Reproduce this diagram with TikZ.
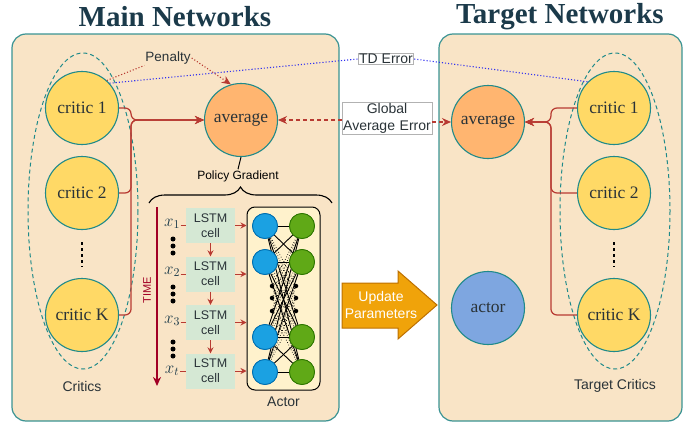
\RequirePackage{fix-cm}
\documentclass[tikz,border=0pt]{standalone}
\usepackage{fontspec}
\setmainfont{Liberation Serif}
\setsansfont{Liberation Sans}
\usetikzlibrary{arrows.meta,decorations.pathreplacing,calc}
\definecolor{panelfill}{HTML}{F9E4C6}
\definecolor{paneledge}{HTML}{3A9393}
\definecolor{circedge}{HTML}{1F8A8A}
\definecolor{criticfill}{HTML}{FFD966}
\definecolor{avgfill}{HTML}{FFB570}
\definecolor{actorfill}{HTML}{7EA6E0}
\definecolor{titlecol}{HTML}{1B3A4A}
\definecolor{txtdark}{HTML}{2A3338}
\definecolor{connred}{HTML}{B83A32}
\definecolor{timered}{HTML}{A20025}
\definecolor{tdblue}{HTML}{3030F0}
\definecolor{lstmfill}{HTML}{D5E8D4}
\definecolor{abfill}{HTML}{FFF2CC}
\definecolor{bluen}{HTML}{1BA1E2}
\definecolor{bluee}{HTML}{006EAF}
\definecolor{greenn}{HTML}{60A917}
\definecolor{greene}{HTML}{2D7600}
\definecolor{updfill}{HTML}{F0A30A}
\definecolor{updedge}{HTML}{BD7000}
\tikzset{
  circ/.style={circle, draw=circedge, line width=1.1pt, minimum size=73pt, inner sep=0pt, text=txtdark, font=\fontsize{17.5}{20}\selectfont},
  critic/.style={circ, fill=criticfill},
  avgc/.style={circ, fill=avgfill},
  actorc/.style={circ, fill=actorfill},
  panel/.style={draw=paneledge, fill=panelfill, line width=1.2pt, rounded corners=14pt},
  ttl/.style={text=titlecol, font=\fontsize{29}{32}\selectfont\bfseries},
  sanslbl/.style={text=txtdark, font=\sffamily\fontsize{14}{17}\selectfont, inner sep=1pt},
  ell/.style={draw=circedge, dashed, dash pattern=on 4pt off 3pt, line width=1pt},
  conn/.style={draw=connred, line width=1.2pt, rounded corners=6pt, -{Stealth[length=9pt,width=8pt]}},
  penline/.style={draw=connred, dotted, line width=1.1pt, -{Stealth[length=9pt,width=8pt]}},
  tdline/.style={draw=tdblue, dotted, line width=1.1pt},
  gaeline/.style={draw=connred, dashed, dash pattern=on 4pt off 3pt, line width=1.2pt, -{Stealth[length=9pt,width=8pt]}},
  labbox/.style={sanslbl, draw=black!30, fill=white, line width=0.8pt, align=center},
  vdots/.style={draw=black, line width=1.3pt, dash pattern=on 3pt off 3pt},
  lstm/.style={fill=lstmfill, minimum width=49pt, minimum height=35pt, inner sep=0pt, align=center, text=txtdark, font=\sffamily\fontsize{12.5}{15}\selectfont},
  redarr/.style={draw=connred, line width=1pt, -{Stealth[length=6pt,width=6pt]}},
  xlab/.style={inner sep=0.5pt, text=titlecol, font=\fontsize{17}{19}\selectfont},
  bnode/.style={circle, fill=bluen, draw=bluee, line width=0.8pt, minimum size=25pt, inner sep=0pt},
  gnode/.style={circle, fill=greenn, draw=greene, line width=0.8pt, minimum size=25pt, inner sep=0pt},
  ndot/.style={circle, fill=black, minimum size=4.5pt, inner sep=0pt},
  bigdot/.style={circle, fill=black, minimum size=5pt, inner sep=0pt},
}
\begin{document}
\begin{tikzpicture}[x=1pt,y=-1pt]
\useasboundingbox (0,0) rectangle (689,423);
% panels
\draw[panel] (12,34) rectangle (339,421);
\draw[panel] (439,34) rectangle (682,421);
\node[ttl] (t1ttl) at (175,17) {Main Networks};
\node[ttl] (t2ttl) at (560,17) {Target Networks};
% ellipses
\draw[ell] (83,211) ellipse (55 and 158);
\draw[ell] (615,211) ellipse (55 and 158);
% main critics
\node[critic] (c1) at (82,108) {critic 1};
\node[critic] (c2) at (82,193) {critic 2};
\node[critic] (cK) at (82,315) {critic K};
\coordinate (cd1) at (82,242);
\coordinate (cd2) at (82,267);
\draw[vdots] (cd1) -- (cd2);
\node[sanslbl] (crl) at (82,386) {Critics};
\node[avgc] (mavg) at (241,120) {average};
% target
\node[critic] (tc1) at (614,108) {critic 1};
\node[critic] (tc2) at (614,193) {critic 2};
\node[critic] (tcK) at (614,315) {critic K};
\coordinate (td1) at (614,242);
\coordinate (td2) at (614,267);
\draw[vdots] (td1) -- (td2);
\node[sanslbl] (tcrl) at (615,386) {Target Critics};
\node[avgc] (tavg) at (488,122) {average};
\node[actorc] (tact) at (488,308) {actor};
% critic connectors
\draw[conn] (c1.east) -- ++(12,0) |- (mavg.west);
\draw[conn] (c2.east) -- ++(12,0) |- (mavg.west);
\draw[conn] (cK.east) -- ++(12,0) |- (mavg.west);
\draw[conn] (tc1.west) -- ++(-26,0) |- (tavg.east);
\draw[conn] (tc2.west) -- ++(-26,0) |- (tavg.east);
\draw[conn] (tcK.west) -- ++(-26,0) |- (tavg.east);
% penalty / TD error / global average error
\node[sanslbl, font=\sffamily\fontsize{13.5}{15}\selectfont] (pen) at (168,58) {Penalty};
\draw[penline, -] (c1.48) -- (pen.south west);
\draw[penline] (pen.east) -- (mavg.106);
\node[labbox] (td) at (386,59) {TD Error};
\draw[tdline] (c1.42) -- (td.west);
\draw[tdline] (td.east) -- (tc1.135);
\node[labbox, text width=88pt] (gae) at (387,118) {Global\\Average Error};
\draw[gaeline] (gae.west |- mavg.east) -- (mavg.east);
\draw[gaeline] (gae.east |- tavg.west) -- (tavg.west);
% policy gradient
\node[sanslbl, font=\sffamily\fontsize{12}{14}\selectfont, text=black] (pg) at (238,176) {Policy Gradient};
\draw[line width=1pt] (mavg.south) -- (pg.north);
\coordinate (brl) at (149,203);
\coordinate (brr) at (332,203);
\draw[line width=1.1pt, decorate, decoration={brace, amplitude=16pt}] (brl) -- (brr);
% time
\coordinate (tmtop) at (157,207);
\coordinate (tmbot) at (157,386);
\draw[draw=timered, line width=2.8pt, -{Stealth[length=9pt,width=8pt]}] (tmtop) -- (tmbot);
\node[rotate=90, text=timered, font=\sffamily\fontsize{11}{13}\selectfont] (time) at (147,290) {TIME};
% LSTM
\node[lstm] (l1) at (210.5,225.5) {LSTM\\cell};
\node[lstm] (l2) at (210.5,274) {LSTM\\cell};
\node[lstm] (l3) at (210.5,322.5) {LSTM\\cell};
\node[lstm] (l4) at (210.5,371) {LSTM\\cell};
\draw[redarr] (l1.south) -- (l2.north);
\draw[redarr] (l2.south) -- (l3.north);
\draw[redarr] (l3.south) -- (l4.north);
\node[xlab] (x1) at (172,224) {$x_1$};
\node[xlab] (x2) at (172,272) {$x_2$};
\node[xlab] (x3) at (172,321) {$x_3$};
\node[xlab] (x4) at (172,371) {$x_t$};
\draw[draw=connred, line width=1pt] (x1.east |- l1.west) -- (l1.west);
\draw[draw=connred, line width=1pt] (x2.east |- l2.west) -- (l2.west);
\draw[draw=connred, line width=1pt] (x3.east |- l3.west) -- (l3.west);
\draw[draw=connred, line width=1pt] (x4.east |- l4.west) -- (l4.west);
\foreach \y [count=\k] in {239,246,253, 287,294,301, 342,349,356} {
  \node[bigdot] (xd\k) at (173,\y) {};
}
% actor
\node[draw=black, fill=abfill, line width=1pt, rounded corners=8pt, minimum width=73pt, minimum height=183pt, inner sep=0pt] (abox) at (283.5,298.5) {};
\node[sanslbl] (actl) at (283.5,402) {Actor};
\foreach \y [count=\k] in {226,262,337,372} {
  \node[bnode] (b\k) at (265,\y) {};
  \node[gnode] (g\k) at (302,\y) {};
}
\foreach \y [count=\k] in {286,298,311} {
  \node[ndot] (ld\k) at (272,\y) {};
  \node[ndot] (rd\k) at (296,\y) {};
}
\foreach \i in {1,...,4} {
  \foreach \j in {1,...,4} {
    \draw[line width=0.9pt] (b\i) -- (g\j);
  }
  \foreach \k in {1,2,3} {
    \draw[dotted, line width=0.7pt] (ld\k) -- (g\i);
    \draw[dotted, line width=0.7pt] (rd\k) -- (b\i);
  }
}
\foreach \i in {1,...,4} {
  \node[bnode] (bb\i) at (b\i) {};
  \node[gnode] (gg\i) at (g\i) {};
}
\draw[redarr] (l1.east) -- (l1.east -| abox.west);
\draw[redarr] (l2.east) -- (l2.east -| abox.west);
\draw[redarr] (l3.east) -- (l3.east -| abox.west);
\draw[redarr] (l4.east) -- (l4.east -| abox.west);
% update arrow
\draw[fill=updfill, draw=updedge, line width=1pt] (342,283) -- (398,283) -- (398,271) -- (437,305) -- (398,339) -- (398,328) -- (342,328) -- cycle;
\node[sanslbl, text=white, align=center] (upd) at (381,305) {Update\\Parameters};
\end{tikzpicture}
\end{document}
